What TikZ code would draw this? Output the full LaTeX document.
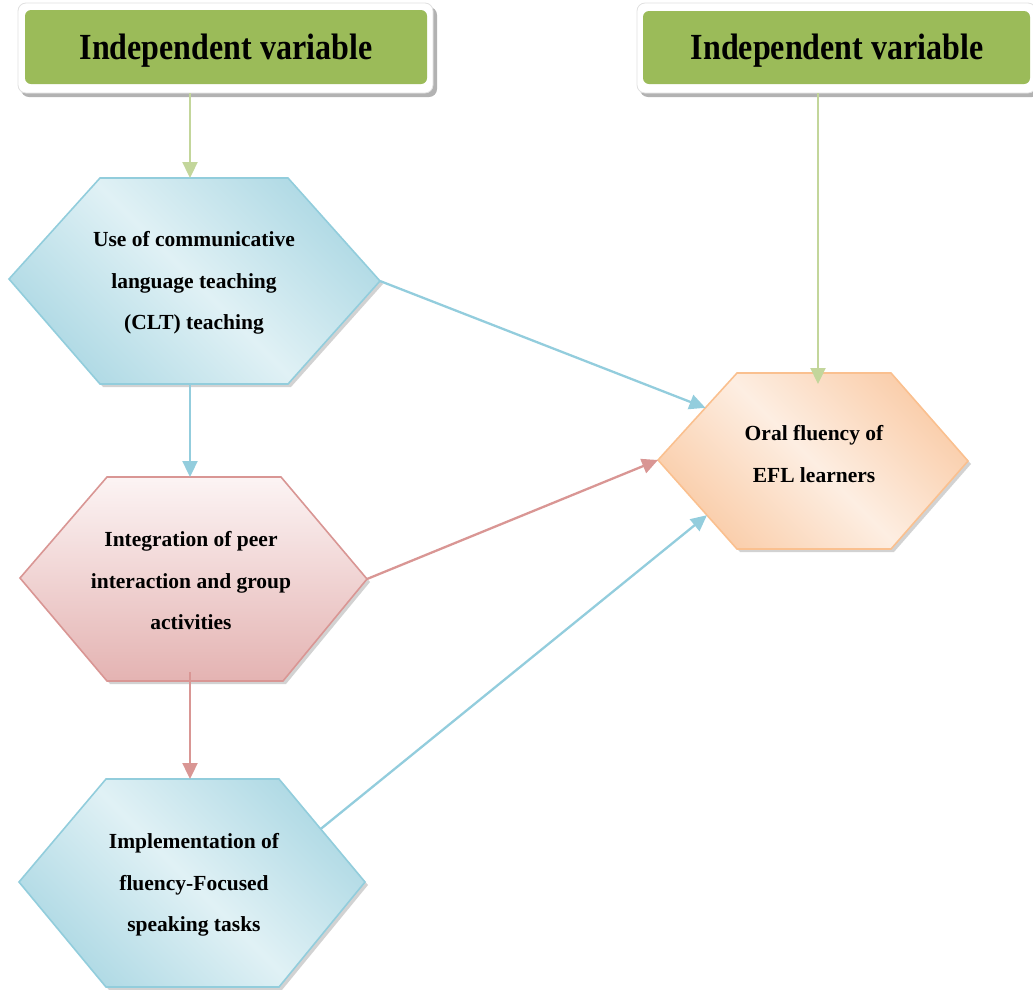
\documentclass[tikz,border=0pt]{standalone}
\usepackage{fontspec}
\setmainfont{Liberation Serif}
\usetikzlibrary{arrows.meta,calc}
\definecolor{boxgreen}{HTML}{9BBB59}
\definecolor{arrgreen}{HTML}{C3D69B}
\definecolor{arrblue}{HTML}{93CDDD}
\definecolor{arrpink}{HTML}{D99694}
\definecolor{hexblueB}{HTML}{92CDDC}
\definecolor{hexblueIn}{HTML}{E0F1F5}
\definecolor{hexblueOut}{HTML}{A2D3E0}
\definecolor{hexpinkB}{HTML}{D99694}
\definecolor{hexpinkTop}{HTML}{FCF4F4}
\definecolor{hexpinkBot}{HTML}{E4B3B2}
\definecolor{hexorB}{HTML}{FAC08F}
\definecolor{hexorIn}{HTML}{FDEEE2}
\definecolor{hexorOut}{HTML}{F9C49A}
\pgfdeclarehorizontalshading{bluediag}{100bp}{color(0bp)=(hexblueOut); color(18bp)=(hexblueOut); color(50bp)=(hexblueIn); color(82bp)=(hexblueOut); color(100bp)=(hexblueOut)}
\pgfdeclarehorizontalshading{ordiag}{100bp}{color(0bp)=(hexorOut); color(18bp)=(hexorOut); color(50bp)=(hexorIn); color(82bp)=(hexorOut); color(100bp)=(hexorOut)}
\tikzset{
  hexshadow/.style={fill=black!35, opacity=0.5},
  bluehex/.style={draw=hexblueB, line width=1.6pt, shading=bluediag, shading angle=45},
  pinkhex/.style={draw=hexpinkB, line width=1.6pt, top color=hexpinkTop, bottom color=hexpinkBot},
  orhex/.style={draw=hexorB, line width=1.6pt, shading=ordiag, shading angle=45},
  hextext/.style={align=center, font=\fontsize{21.5}{41.5}\selectfont\bfseries, inner sep=0pt},
  headtext/.style={font=\fontsize{32}{38}\selectfont\bfseries, inner sep=0pt},
  conn/.style={line width=2.3pt, -{Triangle[length=16pt,width=15pt]}},
}
\begin{document}
\begin{tikzpicture}[x=1pt,y=-1pt]
\useasboundingbox (0,0) rectangle (1033,989);

% ---------- header boxes ----------
\fill[black!30, rounded corners=8pt] (21,7) rectangle (437,97);
\filldraw[fill=white, draw=black!12, line width=0.8pt, rounded corners=8pt] (18,3) rectangle (433,93);
\fill[boxgreen, rounded corners=6pt] (25,10) rectangle (427,84);
\node[headtext] (iv1) at (226,51) {\scalebox{1}[1.15]{Independent variable}};
\coordinate (iv1b) at (190,93);

\fill[black!30, rounded corners=8pt] (640,7) rectangle (1040,97);
\filldraw[fill=white, draw=black!12, line width=0.8pt, rounded corners=8pt] (637,3) rectangle (1036,93);
\fill[boxgreen, rounded corners=6pt] (643,11) rectangle (1030,84);
\node[headtext] (iv2) at (837,51) {\scalebox{1}[1.15]{Independent variable}};
\coordinate (iv2b) at (818,93);

% ---------- hexagon 1 ----------
\coordinate (h1l) at (9,279);   \coordinate (h1tl) at (100,178); \coordinate (h1tr) at (288,178);
\coordinate (h1r) at (380,281); \coordinate (h1br) at (288,384); \coordinate (h1bl) at (100,384);
\fill[hexshadow] ($(h1l)+(3,3)$) -- ($(h1tl)+(3,3)$) -- ($(h1tr)+(3,3)$) -- ($(h1r)+(3,3)$) -- ($(h1br)+(3,3)$) -- ($(h1bl)+(3,3)$) -- cycle;
\shade[bluehex] (h1l) -- (h1tl) -- (h1tr) -- (h1r) -- (h1br) -- (h1bl) -- cycle;
\node[hextext] (t1) at (194,283) {Use of communicative\\language teaching\\(CLT) teaching};
\coordinate (h1t) at (190,178); \coordinate (h1b) at (190,384);

% ---------- hexagon 2 ----------
\coordinate (h2l) at (20,578);  \coordinate (h2tl) at (107,477); \coordinate (h2tr) at (281,477);
\coordinate (h2r) at (367,579); \coordinate (h2br) at (283,681); \coordinate (h2bl) at (107,681);
\fill[hexshadow] ($(h2l)+(3,3)$) -- ($(h2tl)+(3,3)$) -- ($(h2tr)+(3,3)$) -- ($(h2r)+(3,3)$) -- ($(h2br)+(3,3)$) -- ($(h2bl)+(3,3)$) -- cycle;
\shade[pinkhex] (h2l) -- (h2tl) -- (h2tr) -- (h2r) -- (h2br) -- (h2bl) -- cycle;
\node[hextext] (t2) at (191,581) {Integration of peer\\interaction and group\\activities};
\coordinate (h2t) at (190,477); \coordinate (h2b) at (190,672);

% ---------- hexagon 3 ----------
\coordinate (h3l) at (19,882);  \coordinate (h3tl) at (106,779); \coordinate (h3tr) at (279,779);
\coordinate (h3r) at (365,882); \coordinate (h3br) at (279,987); \coordinate (h3bl) at (106,987);
\fill[hexshadow] ($(h3l)+(3,3)$) -- ($(h3tl)+(3,3)$) -- ($(h3tr)+(3,3)$) -- ($(h3r)+(3,3)$) -- ($(h3br)+(3,3)$) -- ($(h3bl)+(3,3)$) -- cycle;
\shade[bluehex] (h3l) -- (h3tl) -- (h3tr) -- (h3r) -- (h3br) -- (h3bl) -- cycle;
\node[hextext] (t3) at (194,885) {Implementation of\\fluency-Focused\\speaking tasks};
\coordinate (h3t) at (190,779);
\coordinate (h3e) at ($(h3tr)!0.485!(h3r)$);

% ---------- hexagon 4 ----------
\coordinate (h4l) at (658,460); \coordinate (h4tl) at (737,373); \coordinate (h4tr) at (891,373);
\coordinate (h4r) at (968,461); \coordinate (h4br) at (891,549); \coordinate (h4bl) at (737,549);
\fill[hexshadow] ($(h4l)+(3,3)$) -- ($(h4tl)+(3,3)$) -- ($(h4tr)+(3,3)$) -- ($(h4r)+(3,3)$) -- ($(h4br)+(3,3)$) -- ($(h4bl)+(3,3)$) -- cycle;
\shade[orhex] (h4l) -- (h4tl) -- (h4tr) -- (h4r) -- (h4br) -- (h4bl) -- cycle;
\node[hextext] (t4) at (814,454) {Oral fluency of\\EFL learners};
\coordinate (h4in) at (818,384);
\coordinate (h4a) at ($(h4l)!0.6!(h4tl)$);
\coordinate (h4c) at ($(h4l)!0.62!(h4bl)$);

% ---------- connectors ----------
\draw[conn, arrgreen] (iv1b) -- (h1t);
\draw[conn, arrgreen] (iv2b) -- (h4in);
\draw[conn, arrblue] (h1b) -- (h2t);
\draw[conn, arrpink] (h2b) -- (h3t);
\draw[conn, arrblue] (h1r) -- (h4a);
\draw[conn, arrpink] (h2r) -- (h4l);
\draw[conn, arrblue] (h3e) -- (h4c);
\end{tikzpicture}
\end{document}
